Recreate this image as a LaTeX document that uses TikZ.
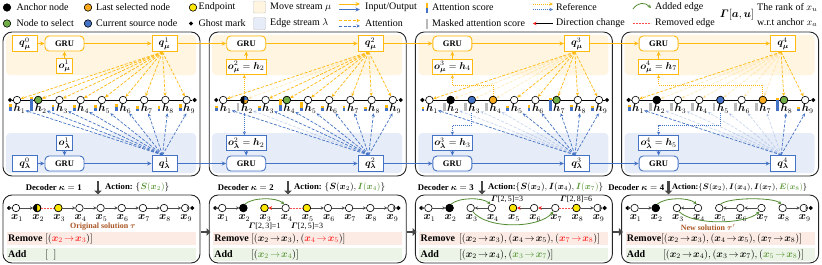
\documentclass[tikz,border=0pt]{standalone}
\usepackage{fontspec}
\setmainfont{Liberation Serif}
\usepackage{amsmath}
\usepackage{bm}
\usetikzlibrary{arrows.meta,shapes.geometric,calc}
\pgfdeclarelayer{bg}
\pgfsetlayers{bg,main}
\definecolor{ycol}{RGB}{255,185,15}
\definecolor{bcol}{RGB}{68,114,196}
\definecolor{yband}{RGB}{255,245,224}
\definecolor{bband}{RGB}{231,237,248}
\definecolor{orn}{RGB}{247,170,30}
\definecolor{yel}{RGB}{255,232,0}
\definecolor{grn}{RGB}{112,173,71}
\definecolor{gtxt}{RGB}{90,150,55}
\definecolor{gline}{RGB}{84,140,50}
\definecolor{rtxt}{RGB}{250,30,30}
\definecolor{rdash}{RGB}{250,80,80}
\definecolor{rband}{RGB}{252,235,228}
\definecolor{aband}{RGB}{236,244,231}
\definecolor{brn}{RGB}{170,85,35}
\definecolor{gbar}{RGB}{185,185,185}
\newcommand{\xe}[2]{\bm{x}_{#1}\!\rightarrow\!\bm{x}_{#2}}
\tikzset{
 panel/.style={draw=black!85, line width=0.9pt, rounded corners=9pt, fill=white},
 qbox/.style={draw=#1, line width=0.9pt, fill=white, minimum width=25pt, minimum height=15.5pt, inner sep=0.5pt, font=\fontsize{10}{11}\selectfont},
 grubox/.style={draw=#1, line width=0.9pt, fill=white, rounded corners=4pt, minimum width=39pt, minimum height=15pt, inner sep=0.5pt, font=\fontsize{8.5}{10}\selectfont\bfseries},
 obox/.style={draw=#1, line width=0.9pt, fill=white, minimum height=15pt, inner xsep=2pt, inner ysep=0.5pt, font=\fontsize{10}{11}\selectfont},
 nd/.style={circle, draw=black, line width=0.6pt, fill=white, minimum size=7.5pt, inner sep=0pt},
 fc/.style={fill=#1, draw=black, line width=0.6pt},
 ghost/.style={diamond, fill=black, minimum size=4.5pt, inner sep=0pt},
 flow/.style={line width=0.8pt, -{Stealth[length=4.5pt,width=4pt]}},
 att/.style={line width=0.7pt, dash pattern=on 3pt off 1.6pt, -{Stealth[length=3.5pt,width=3.2pt]}},
 refa/.style={line width=0.8pt, dash pattern=on 1pt off 1pt, -{Stealth[length=3.5pt,width=3.2pt]}},
 be/.style={line width=0.9pt, draw=black!70, -{Stealth[length=3.2pt,width=3.4pt]}},
 dirc/.style={line width=0.9pt, draw=black!70, -{Stealth[length=3.6pt,width=3.8pt,color=rtxt]}},
 rem/.style={line width=0.9pt, draw=rdash, dash pattern=on 1.8pt off 1.2pt},
 addE/.style={line width=0.8pt, draw=gline, -{Stealth[length=3.5pt,width=3.4pt]}},
 lbl/.style={inner sep=0pt, font=\fontsize{10.5}{11}\selectfont},
 lgt/.style={anchor=west, inner sep=0pt, font=\fontsize{10}{11}\selectfont},
 bigarr/.style={line width=2.6pt, draw=black!72, -{Triangle[length=4pt,width=7.5pt]}},
 dec/.style={inner sep=0pt, font=\fontsize{8.7}{10}\selectfont},
 rmt/.style={anchor=west, inner sep=0pt, font=\fontsize{10}{12}\selectfont},
 gam/.style={inner sep=0pt, font=\fontsize{8}{9}\selectfont},
}
\begin{document}
\begin{tikzpicture}[x=1pt,y=-1pt]
\useasboundingbox (0,0) rectangle (822,265);

% ---------------- legend ----------------
\node[nd, fill=black] (lga) at (7,7.5) {};
\node[lgt] (lgat) at (16.5,7.5) {Anchor node};
\node[nd, fill=orn] (lgl) at (88,7.5) {};
\node[lgt] (lglt) at (96,7.5) {Last selected node};
\node[nd, fill=yel] (lge) at (193,7.5) {};
\node[lgt] (lget) at (198.5,7.5) {Endpoint};
\node[draw=black!25, fill=yband, minimum size=12pt, inner sep=0pt, rounded corners=1pt] (lgm) at (259.5,7) {};
\node[lgt] (lgmt) at (270,7.5) {Move stream $\mu$};
\coordinate (io1a) at (339,4); \coordinate (io1b) at (360,4);
\coordinate (io2a) at (339,9.5); \coordinate (io2b) at (360,9.5);
\draw[flow, ycol] (io1a) -- (io1b);
\draw[flow, bcol] (io2a) -- (io2b);
\node[lgt] (lgio) at (365,7.5) {Input/Output};
\fill[bcol] (425.6,7.5) rectangle (428.4,12.5);
\fill[ycol] (425.6,2.5) rectangle (428.4,7.5);
\node[lgt] (lgas) at (432,7.5) {Attention score};
\coordinate (rf1a) at (533,4); \coordinate (rf1b) at (553,4);
\coordinate (rf2a) at (533,9.5); \coordinate (rf2b) at (553,9.5);
\draw[refa, ycol] (rf1a) -- (rf1b);
\draw[refa, bcol] (rf2a) -- (rf2b);
\node[lgt] (lgrf) at (556,7.5) {Reference};
\coordinate (ad1a) at (633,9); \coordinate (ad1b) at (651,8);
\draw[addE] (ad1a) .. controls (638,2) and (645,2) .. (ad1b);
\node[lgt] (lgad) at (655,7.5) {Added edge};
\node[inner sep=0pt, font=\fontsize{10.5}{12}\selectfont] (lgg) at (737,15) {$\bm{\varGamma}[\bm{a},\bm{u}]$};
\node[lgt] (lgg1) at (757,7.5) {The rank of $x_u$};
\node[lgt] (lgg2) at (757,22.5) {w.r.t anchor $x_a$};

\node[nd, fill=grn] (lgn) at (7,23.5) {};
\node[lgt] (lgnt) at (16.5,23.5) {Node to select};
\node[nd, fill=bcol] (lgc) at (88,23.5) {};
\node[lgt] (lgct) at (96,23.5) {Current source node};
\node[ghost] (lgg0) at (191,23.5) {};
\node[lgt] (lgg0t) at (198.5,23.5) {Ghost mark};
\node[draw=black!25, fill=bband, minimum size=12pt, inner sep=0pt, rounded corners=1pt] (lgb) at (259.5,23.5) {};
\node[lgt] (lgbt) at (270,23.5) {Edge stream $\lambda$};
\coordinate (at1a) at (339,20.5); \coordinate (at1b) at (360,20.5);
\coordinate (at2a) at (339,26); \coordinate (at2b) at (360,26);
\draw[att, ycol] (at1a) -- (at1b);
\draw[att, bcol] (at2a) -- (at2b);
\node[lgt] (lgat2) at (365,23.5) {Attention};
\fill[gbar] (425.6,19) rectangle (428.4,28.5);
\node[lgt] (lgms) at (432,23.5) {Masked attention score};
\coordinate (dc1a) at (553,23.5); \coordinate (dc1b) at (533,23.5);
\draw[dirc, draw=black] (dc1a) -- (dc1b);
\node[lgt] (lgdc) at (556,23.5) {Direction change};
\coordinate (rm1a) at (633,23.5); \coordinate (rm1b) at (651,23.5);
\draw[rem] (rm1a) -- (rm1b);
\node[lgt] (lgrm) at (655,23.5) {Removed edge};

% ---------------- backgrounds ----------------
\begin{pgfonlayer}{bg}
\foreach \p in {0,1,2,3}{
 \pgfmathsetmacro\dx{206.2*\p}
 \draw[panel] (3+\dx,32) rectangle (200+\dx,176);
 \fill[yband, rounded corners=4pt] (6+\dx,35) rectangle (196+\dx,75);
 \fill[bband, rounded corners=4pt] (6+\dx,133) rectangle (196+\dx,173);
 \draw[panel] (3+\dx,195) rectangle (200+\dx,263);
 \fill[rband] (7+\dx,232) rectangle (196+\dx,245);
 \fill[aband] (7+\dx,248) rectangle (196+\dx,261);
}
\end{pgfonlayer}

% ---------------- top rows ----------------
\foreach \p in {1,2,3,4}{
 \pgfmathsetmacro\dx{206.2*(\p-1)}
 \node[ghost] (gl\p) at (10+\dx,100) {};
 \node[ghost] (gr\p) at (194.6+\dx,100) {};
 \foreach \i in {1,...,9}{
   \node[nd] (n\p-\i) at (17+\dx+21.2*\i-21.2,100) {};
   \node[lbl] (h\p-\i) at (19.5+\dx+21.2*\i-21.2,108.5) {$\bm{h}_{\i}$};
 }
 \begin{pgfonlayer}{bg}
 \draw[line width=0.8pt] (gl\p) -- (gr\p);
 \end{pgfonlayer}
}
% node states
\path[fc=grn] (n1-2.center) circle[radius=3.75pt];
\path[fc=black] (n2-2.center) circle[radius=3.75pt];
\fill[orn] (n2-2.center) -- ++(3.4pt,0pt) arc[start angle=0,end angle=-90,radius=3.4pt] -- cycle;
\fill[bcol] (n2-2.center) -- ++(0pt,3.4pt) arc[start angle=90,end angle=0,radius=3.4pt] -- cycle;
\path[fc=grn] (n2-4.center) circle[radius=3.75pt];
\path[fc=black] (n3-2.center) circle[radius=3.75pt];
\path[fc=bcol] (n3-3.center) circle[radius=3.75pt];
\path[fc=orn] (n3-4.center) circle[radius=3.75pt];
\path[fc=grn] (n3-7.center) circle[radius=3.75pt];
\path[fc=black] (n4-2.center) circle[radius=3.75pt];
\path[fc=bcol] (n4-5.center) circle[radius=3.75pt];
\path[fc=orn] (n4-7.center) circle[radius=3.75pt];
\path[fc=grn] (n4-8.center) circle[radius=3.75pt];

% attention bars
\foreach \p/\i/\ua/\ub in {1/1/3/4, 1/2/1.5/12, 1/3/2/4, 1/4/3/3, 1/5/3/3, 1/6/3/4, 1/7/3/2, 1/8/3/2, 1/9/4/3,
  2/1/1.5/3, 2/3/1.5/3, 2/4/6/6, 2/5/6/3, 2/6/2/3, 2/7/2/3, 2/8/2/2, 2/9/3/3,
  3/1/2/2, 3/5/1.5/3, 3/6/3/3, 3/7/2/11, 3/8/2/4, 3/9/2/3, 4/1/2/4, 4/8/2/11, 4/9/1.5/2}{
  \pgfmathsetmacro\bxx{17+206.2*(\p-1)+21.2*(\i-1)-6.5}
  \fill[bcol] (\bxx-1.4,110.5) rectangle (\bxx+1.4,110.5-\ub);
  \fill[ycol] (\bxx-1.4,110.5-\ub) rectangle (\bxx+1.4,110.5-\ub-\ua);
}
\foreach \p/\i in {2/2,3/2,3/3,3/4,4/2,4/3,4/4,4/5,4/6,4/7}{
  \pgfmathsetmacro\bxx{17+206.2*(\p-1)+21.2*(\i-1)-6.5}
  \fill[gbar] (\bxx-1.4,103) rectangle (\bxx+1.4,110.5);
}

% ---------------- boxes ----------------
\node[qbox=ycol] (q0mu) at (25,43.5) {$\bm{q}^{0}_{\bm{\mu}}$};
\node[qbox=bcol] (q0lam) at (25,163.5) {$\bm{q}^{0}_{\bm{\lambda}}$};
\node[grubox=ycol] (gmu1) at (64.5,43.5) {GRU};
\node[grubox=bcol] (glam1) at (64.5,163.5) {GRU};
\node[obox=ycol] (omu1) at (64.5,66) {$\bm{o}^{1}_{\bm{\mu}}$};
\node[obox=bcol] (olam1) at (64.5,143) {$\bm{o}^{1}_{\bm{\lambda}}$};
\node[qbox=ycol] (qmu1) at (164.5,43.5) {$\bm{q}^{1}_{\bm{\mu}}$};
\node[qbox=bcol] (qlam1) at (164.5,163.5) {$\bm{q}^{1}_{\bm{\lambda}}$};
\foreach \p/\j in {2/2,3/4,4/7}{
  \pgfmathsetmacro\dx{206.2*(\p-1)}
  \node[grubox=ycol] (gmu\p) at (40+\dx,43.5) {GRU};
  \node[grubox=bcol] (glam\p) at (40+\dx,163.5) {GRU};
  \node[obox=ycol] (omu\p) at (40+\dx,67) {$\bm{o}^{\p}_{\bm{\mu}}=\bm{h}_{\j}$};
  \node[qbox=ycol] (qmu\p) at (164.5+\dx,43.5) {$\bm{q}^{\p}_{\bm{\mu}}$};
  \node[qbox=bcol] (qlam\p) at (164.5+\dx,163.5) {$\bm{q}^{\p}_{\bm{\lambda}}$};
}
\node[obox=bcol] (olam2) at (246.2,143) {$\bm{o}^{2}_{\bm{\lambda}}=\bm{h}_{2}$};
\node[obox=bcol] (olam3) at (452.4,143) {$\bm{o}^{3}_{\bm{\lambda}}=\bm{h}_{3}$};
\node[obox=bcol] (olam4) at (658.6,143) {$\bm{o}^{4}_{\bm{\lambda}}=\bm{h}_{5}$};

% flows
\draw[flow, ycol] (q0mu) -- (gmu1);
\draw[flow, bcol] (q0lam) -- (glam1);
\foreach \p in {1,2,3,4}{
  \draw[flow, ycol] (gmu\p) -- (qmu\p);
  \draw[flow, bcol] (glam\p) -- (qlam\p);
  \draw[flow, ycol] (omu\p) -- (gmu\p);
  \draw[flow, bcol] (olam\p) -- (glam\p);
}
\foreach \p/\q in {1/2,2/3,3/4}{
  \draw[flow, ycol] (qmu\p) -- (gmu\q);
  \draw[flow, bcol] (qlam\p) -- (glam\q);
}

% attention
\foreach \p/\qx/\m in {1/164.5/1, 2/370.7/2, 3/576.9/4, 4/783.1/7}{
  \coordinate (ya\p) at (\qx-2,52);
  \coordinate (ba\p) at (\qx-2,155);
  \foreach \i in {1,...,9}{
    \pgfmathsetmacro\op{ifthenelse(and(\i>1,\i<=\m),0.28,1)}
    \draw[att, ycol, opacity=\op] (ya\p) -- (n\p-\i);
    \draw[att, bcol, opacity=\op] (ba\p) -- (h\p-\i);
  }
}

% reference (dotted)
\draw[refa, ycol] (n2-2.north) -- (n2-2.north |- omu2.south);
\draw[refa, bcol] (n2-2 |- h2-2.south) -- (n2-2 |- olam2.north);
\draw[refa, ycol] (n3-4.north) -- ++(0,-11) -| (omu3.south);
\draw[refa, bcol] (n3-3 |- h3-3.south) -- ++(0,12.5) -| (olam3.north);
\draw[refa, ycol] (n4-7.north) -- ++(0,-11) -| (omu4.south);
\draw[refa, bcol] (n4-5 |- h4-5.south) -- ++(0,12.5) -| (olam4.north);

% ---------------- decoder labels ----------------
\node[dec, anchor=east] (dk1) at (82,187.5) {\textbf{Decoder} $\bm{\kappa}=\mathbf{1}$};
\node[dec, anchor=west] (ac1) at (105,187.5) {\textbf{Action:} $\{\textcolor{gtxt}{\bm{S}(\bm{x}_2)}\}$};
\node[dec, anchor=east] (dk2) at (274,187.5) {\textbf{Decoder} $\bm{\kappa}=\mathbf{2}$};
\node[dec, anchor=west] (ac2) at (294,187.5) {\textbf{Action:} $\{\bm{S}(\bm{x}_2),\textcolor{gtxt}{\bm{I}(\bm{x}_4)}\}$};
\node[dec, anchor=east] (dk3) at (474,187.5) {\textbf{Decoder} $\bm{\kappa}=\mathbf{3}$};
\node[dec, anchor=west] (ac3) at (488,187.5) {\textbf{Action:}$\{\bm{S}(\bm{x}_2),\bm{I}(\bm{x}_4),\textcolor{gtxt}{\bm{I}(\bm{x}_7)}\}$};
\node[dec, anchor=east] (dk4) at (664.5,187.5) {\textbf{Decoder} $\bm{\kappa}=\mathbf{4}$};
\node[dec, anchor=west, font=\fontsize{8.3}{10}\selectfont] (ac4) at (672,187.5) {\textbf{Action:}$\{\bm{S}(\bm{x}_2),\bm{I}(\bm{x}_4),\bm{I}(\bm{x}_7),\textcolor{gtxt}{\bm{E}(\bm{x}_8)}\}$};
\foreach \k/\ax in {1/98,2/288,3/482,4/668.5}{
  \coordinate (da\k a) at (\ax,181);
  \coordinate (da\k b) at (\ax,194.5);
  \draw[bigarr] (da\k a) -- (da\k b);
}
\foreach \k in {1,2,3}{
  \pgfmathsetmacro\dx{206.2*(\k-1)}
  \coordinate (ra\k a) at (201+\dx,232);
  \coordinate (ra\k b) at (210.5+\dx,232);
  \draw[bigarr] (ra\k a) -- (ra\k b);
}

% ---------------- bottom rows ----------------
\foreach \p in {1,2,3,4}{
 \pgfmathsetmacro\dx{206.2*(\p-1)}
 \node[ghost] (bgl\p) at (9+\dx,208) {};
 \node[ghost] (bgr\p) at (192.2+\dx,208) {};
 \foreach \i in {1,...,9}{
   \node[nd] (m\p-\i) at (16+\dx+21.15*\i-21.15,208) {};
   \node[lbl] (x\p-\i) at (17+\dx+21.15*\i-21.15,218) {$\bm{x}_{\i}$};
 }
 \node[rmt, font=\fontsize{10}{12}\selectfont\bfseries] (rmv\p) at (8+\dx,238.5) {Remove};
 \node[rmt, font=\fontsize{10}{12}\selectfont\bfseries] (add\p) at (8+\dx,254.5) {Add};
 \draw[be] (bgl\p) -- (m\p-1);
 \draw[be] (m\p-9) -- (bgr\p);
}
\path[fc=yel] (m1-2.center) circle[radius=3.75pt];
\fill[black] (m1-2.center) ++(0pt,3.75pt) arc[start angle=90,end angle=270,radius=3.75pt] -- cycle;
\draw[line width=0.6pt] (m1-2.center) circle[radius=3.75pt];
\path[fc=yel] (m1-3.center) circle[radius=3.75pt];
\path[fc=black] (m2-2.center) circle[radius=3.75pt];
\path[fc=yel] (m2-3.center) circle[radius=3.75pt];
\path[fc=yel] (m2-5.center) circle[radius=3.75pt];
\path[fc=black] (m3-2.center) circle[radius=3.75pt];
\path[fc=yel] (m3-5.center) circle[radius=3.75pt];
\path[fc=yel] (m3-8.center) circle[radius=3.75pt];
\path[fc=black] (m4-2.center) circle[radius=3.75pt];

\foreach \p/\sa/\sb in {1/1/2, 1/3/4, 1/4/5, 1/5/6, 1/6/7, 1/7/8, 1/8/9, 2/1/2, 2/5/6, 2/6/7, 2/7/8, 2/8/9,
   3/1/2, 3/4/3, 3/8/9, 4/1/2, 4/4/3, 4/6/5, 4/7/6, 4/8/9}{
  \draw[be] (m\p-\sa) -- (m\p-\sb);
}
\foreach \p/\sa/\sb in {2/4/3, 3/6/5, 3/7/6}{
  \draw[dirc] (m\p-\sa) -- (m\p-\sb);
}
\foreach \p/\sa/\sb in {1/2/3, 2/4/5, 3/7/8}{
  \draw[rem] (m\p-\sa) -- (m\p-\sb);
}
\foreach \p/\sa/\sb in {2/2/4, 3/2/4, 4/2/4, 4/5/8}{
  \draw[addE] (m\p-\sa.70) .. controls +(8,-7) and +(-8,-7) .. (m\p-\sb.110);
}
\draw[addE] (m3-3.-60) .. controls +(14,18) and +(-14,17) .. (m3-7.-120);
\draw[addE] (m4-3.-60) .. controls +(14,14) and +(-14,13) .. (m4-7.-120);

% labels
\node[inner sep=0pt, font=\fontsize{8}{9}\selectfont\bfseries, text=brn] (orig) at (103,227) {Original solution $\bm{\tau}$};
\node[inner sep=0pt, font=\fontsize{8}{9}\selectfont\bfseries, text=brn] (news) at (708,227.5) {New solution $\bm{\tau}'$};
\node[gam] (g23) at (264.5,226) {$\bm{\varGamma}$[2,\,3]=1};
\node[gam] (g25) at (307,226) {$\bm{\varGamma}$[2,\,5]=3};
\node[gam] (g25b) at (507,199.5) {$\bm{\varGamma}$[2,\,5]=3};
\node[gam] (g28) at (576,199.5) {$\bm{\varGamma}$[2,\,8]=6};

% remove / add lists
\node[rmt] (rl1) at (45,238.5) {$[(\textcolor{rtxt}{\xe23})]$};
\node[rmt] (al1) at (45,254.5) {$[\;\;]$};
\node[rmt] (rl2) at (251,238.5) {$[(\xe23),(\textcolor{rtxt}{\xe45})]$};
\node[rmt] (al2) at (251,254.5) {$[(\textcolor{gtxt}{\xe24})]$};
\node[rmt] (rl3) at (459,238.5) {$[(\xe23),(\xe45),(\textcolor{rtxt}{\xe78})]$};
\node[rmt] (al3) at (459,254.5) {$[(\xe24),(\textcolor{gtxt}{\xe37})]$};
\node[rmt] (rl4) at (661,238.5) {$[(\xe23),(\xe45),(\xe78)]$};
\node[rmt] (al4) at (663,254.5) {$[(\xe24),(\xe37),(\textcolor{gtxt}{\xe58})]$};
\end{tikzpicture}
\end{document}
